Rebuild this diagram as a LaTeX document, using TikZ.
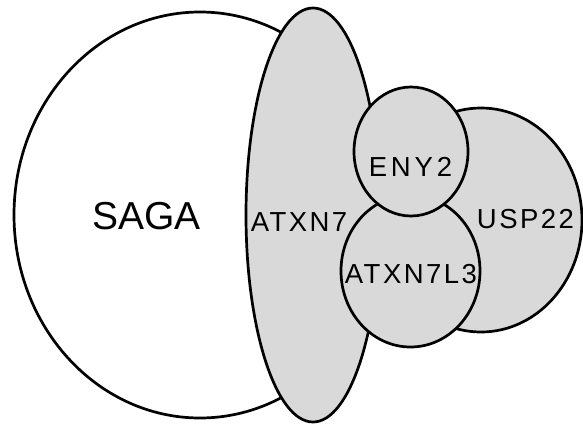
\documentclass[tikz,border=0pt]{standalone}
\usepackage{fontspec}
\setmainfont{Liberation Sans}
\newfontfamily\spacedfont[LetterSpace=9]{Liberation Sans}
\newfontfamily\widefont[LetterSpace=14]{Liberation Sans}
\begin{document}
\begin{tikzpicture}[x=1pt,y=-1pt,
  blob/.style={draw=black,line width=2.7pt,fill=black!15},
  outer/.style={draw=black,line width=2.7pt,fill=white},
  biglabel/.style={inner sep=0pt,font=\fontsize{39}{39}\selectfont},
  smalllabel/.style={inner sep=0pt,font=\spacedfont\fontsize{27.5}{28}\selectfont},
  widelabel/.style={inner sep=0pt,font=\widefont\fontsize{27.5}{28}\selectfont}]
  \useasboundingbox[fill=white] (0,0) rectangle (583,423);
  % complexes, back to front
  \path[outer] (200,215) ellipse [x radius=186,y radius=203];
  \path[blob] (313,215) ellipse [x radius=67,y radius=207];
  \path[blob] (481,220) ellipse [x radius=101,y radius=112];
  \path[blob] (410.5,271) ellipse [x radius=69.5,y radius=76];
  \path[blob] (411,151.5) ellipse [x radius=57,y radius=64.5];
  % labels
  \node[biglabel] (saga) at (146.5,216) {SAGA};
  \node[smalllabel] (atxn7) at (299,222.5) {ATXN7};
  \node[widelabel] (eny2) at (410.5,167) {ENY2};
  \node[smalllabel] (atxn7l3) at (411,274.5) {ATXN7L3};
  \node[smalllabel] (usp22) at (525.5,219.5) {USP22};
\end{tikzpicture}
\end{document}
